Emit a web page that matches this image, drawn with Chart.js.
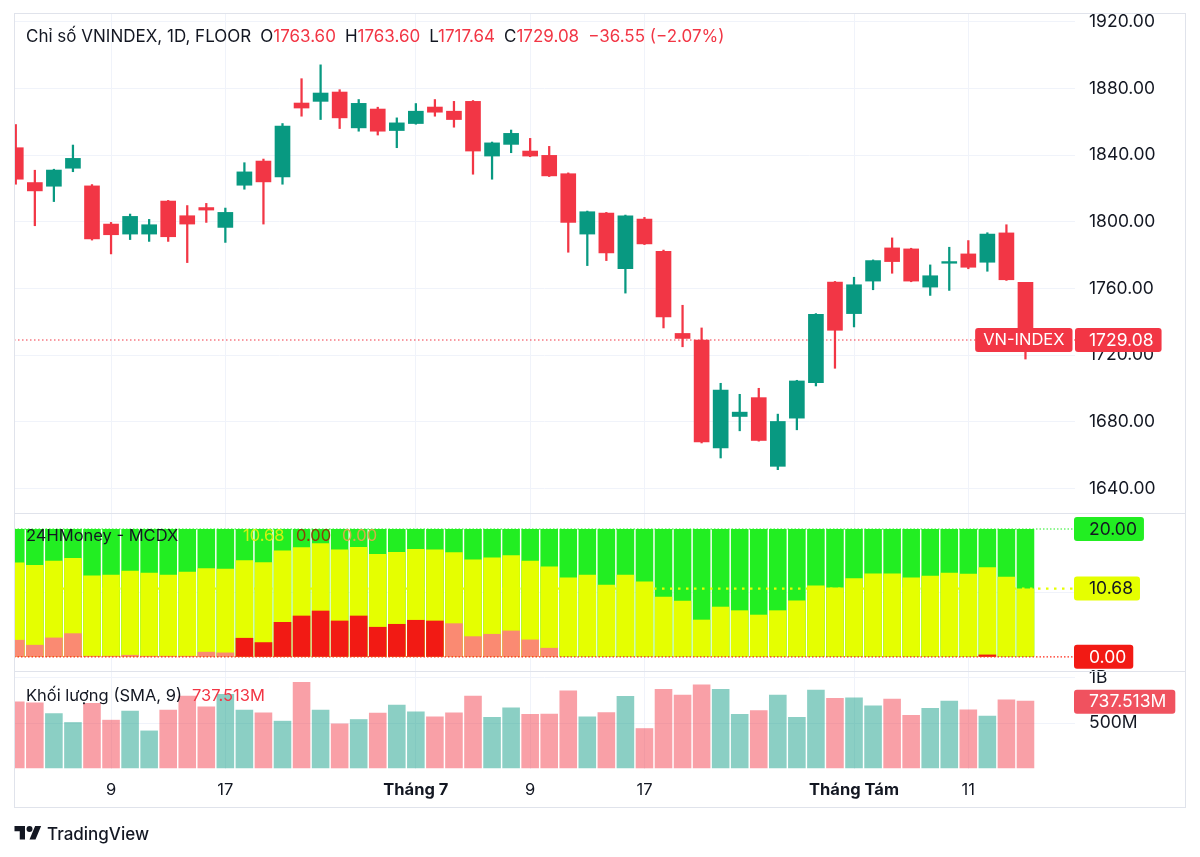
<!DOCTYPE html>
<html lang="vi">
<head>
<meta charset="utf-8">
<title>Chỉ số VNINDEX, 1D</title>
<script src="https://cdn.jsdelivr.net/npm/chart.js@4.4.1/dist/chart.umd.min.js"></script>
<style>
  html, body { margin: 0; padding: 0; background: #fff; }
  #wrap { position: relative; width: 1200px; height: 857px; overflow: hidden;
          font-family: Inter, "Noto Sans", sans-serif; color: #131722; }
  #chart { position: absolute; left: 0; top: 0; }
  .legend { position: absolute; font-size: 16.5px; line-height: 20px; white-space: nowrap; }
  .legend span { margin-left: 9px; }
  .red { color: #f23645; }
  #title { font-size: 17px; }
  #brand { position: absolute; left: 14px; top: 823px; display: flex; align-items: center; gap: 5px;
           font-size: 17px; font-weight: 500; }
</style>
</head>
<body>
<div id="wrap">
  <canvas id="chart" width="1200" height="857"></canvas>

  <div id="title" class="legend" style="left:26px; top:26px;">
    Chỉ số VNINDEX, 1D, FLOOR<span>O<b class="red" style="font-weight:400">1763.60</b></span><span>H<b class="red" style="font-weight:400">1763.60</b></span><span>L<b class="red" style="font-weight:400">1717.64</b></span><span>C<b class="red" style="font-weight:400">1729.08</b></span><span class="red">−36.55 (−2.07%)</span>
  </div>

  <div class="legend" style="left:26px; top:525px;">24HMoney - MCDX</div>
  <div class="legend" style="left:243px; top:525px; color:#d3f112;">10.68</div>
  <div class="legend" style="left:296px; top:525px; color:#8a3f08;">0.00</div>
  <div class="legend" style="left:342px; top:525px; color:#d3ad48;">0.00</div>

  <div class="legend" style="left:26px; top:685px;">Khối lượng (SMA, 9)<span class="red" style="margin-left:10px">737.513M</span></div>

  <div id="brand">
    <svg width="28" height="21" viewBox="0 0 36 28"><path fill="#131722" d="M14 22H7V11H0V4h14v18zM28 22h-8l7.5-18h8L28 22z"/><circle fill="#131722" cx="20" cy="8" r="4"/></svg>
    <span>TradingView</span>
  </div>
</div>

<script>
// trading days shown on the chart
const dates = [
  "2025-06-02", "2025-06-03", "2025-06-04", "2025-06-05", "2025-06-06",
  "2025-06-09", "2025-06-10", "2025-06-11", "2025-06-12", "2025-06-13",
  "2025-06-16", "2025-06-17", "2025-06-18", "2025-06-19", "2025-06-20",
  "2025-06-23", "2025-06-24", "2025-06-25", "2025-06-26", "2025-06-27",
  "2025-06-30", "2025-07-01", "2025-07-02", "2025-07-03", "2025-07-04",
  "2025-07-07", "2025-07-08", "2025-07-09", "2025-07-10", "2025-07-11",
  "2025-07-14", "2025-07-15", "2025-07-16", "2025-07-17", "2025-07-18",
  "2025-07-21", "2025-07-22", "2025-07-23", "2025-07-24", "2025-07-25",
  "2025-07-28", "2025-07-29", "2025-07-30", "2025-07-31", "2025-08-01",
  "2025-08-04", "2025-08-05", "2025-08-06", "2025-08-07", "2025-08-08",
  "2025-08-11", "2025-08-12", "2025-08-13", "2025-08-14",
];

const opens = [
  1844.4, 1823.5, 1821.3, 1832.1, 1821.5, 1798.6, 1792.6, 1792.6, 1812.4, 1803.6,
  1808.5, 1796.6, 1821.9, 1836.4, 1826.9, 1871.2, 1872.2, 1877.8, 1856.3, 1867.6,
  1854.7, 1858.9, 1868.8, 1866.3, 1872.2, 1839.4, 1846.4, 1842.4, 1839.8, 1828.8,
  1792.6, 1805.2, 1771.8, 1801.6, 1782.3, 1733.0, 1729.0, 1664.3, 1683.2, 1694.5,
  1653.3, 1682.2, 1703.5, 1763.8, 1744.9, 1764.4, 1784.3, 1783.7, 1760.8, 1775.1,
  1780.7, 1775.7, 1793.3, 1763.60,
];
const highs = [
  1858.3, 1830.9, 1831.5, 1846.0, 1822.3, 1799.6, 1804.6, 1801.4, 1812.8, 1809.7,
  1811.0, 1808.2, 1835.4, 1837.6, 1858.9, 1885.8, 1894.1, 1879.2, 1873.3, 1868.7,
  1862.3, 1870.9, 1873.3, 1872.2, 1872.7, 1847.8, 1855.0, 1850.0, 1845.2, 1829.3,
  1806.4, 1805.6, 1804.0, 1802.6, 1783.0, 1749.9, 1736.3, 1703.1, 1696.5, 1700.1,
  1684.6, 1704.9, 1744.9, 1764.2, 1766.7, 1777.1, 1790.3, 1784.1, 1774.1, 1784.7,
  1788.7, 1793.4, 1798.2, 1763.60,
];
const lows = [
  1822.5, 1797.6, 1812.1, 1830.0, 1789.0, 1780.7, 1789.3, 1788.2, 1788.2, 1775.5,
  1799.6, 1787.6, 1819.5, 1798.6, 1822.5, 1863.3, 1861.3, 1855.9, 1854.3, 1852.0,
  1844.4, 1858.5, 1863.3, 1856.7, 1828.5, 1825.5, 1841.4, 1839.0, 1827.1, 1781.7,
  1773.7, 1776.7, 1757.2, 1786.3, 1736.3, 1725.0, 1667.3, 1658.3, 1674.6, 1668.4,
  1651.3, 1675.2, 1701.5, 1712.1, 1736.9, 1759.2, 1769.1, 1764.0, 1755.8, 1758.8,
  1771.8, 1770.3, 1764.8, 1717.64,
];
const closes = [
  1825.5, 1818.5, 1831.0, 1838.0, 1789.7, 1792.2, 1803.2, 1798.2, 1791.0, 1798.6,
  1807.0, 1805.6, 1829.9, 1823.9, 1857.3, 1868.2, 1877.2, 1862.3, 1871.0, 1854.3,
  1859.3, 1866.3, 1865.7, 1861.3, 1842.4, 1847.3, 1853.0, 1839.4, 1827.5, 1799.6,
  1806.0, 1781.3, 1803.6, 1786.7, 1742.9, 1730.0, 1667.9, 1699.1, 1685.8, 1668.8,
  1680.2, 1704.5, 1744.5, 1734.9, 1762.2, 1776.7, 1776.1, 1764.4, 1767.6, 1776.1,
  1772.7, 1792.6, 1765.2, 1729.08,
];

// volume, in millions
const volumes = [
  740, 729, 611, 511, 722, 537, 637, 418, 648, 803,
  684, 822, 648, 618, 526, 956, 648, 496, 544, 614,
  703, 629, 573, 618, 803, 567, 673, 600, 603, 862,
  573, 622, 800, 444, 878, 814, 929, 878, 600, 644,
  814, 567, 870, 778, 784, 696, 770, 589, 667, 748,
  651, 581, 762, 748,
];
const volumeSma = 737.513;

// MCDX columns (0..20)
const mcdxRetail = [
  20, 20, 20, 20, 20, 20, 20, 20, 20, 20,
  20, 20, 20, 20, 20, 20, 20, 20, 20, 20,
  20, 20, 20, 20, 20, 20, 20, 20, 20, 20,
  20, 20, 20, 20, 20, 20, 20, 20, 20, 20,
  20, 20, 20, 20, 20, 20, 20, 20, 20, 20,
  20, 20, 20, 20,
];
const mcdxHotMoney = [
  14.75, 14.38, 15.01, 15.47, 12.72, 12.83, 13.45, 13.14, 12.83, 13.29,
  13.87, 13.76, 15.12, 14.80, 16.62, 17.14, 17.76, 16.77, 17.19, 16.10,
  16.41, 16.88, 16.77, 16.36, 15.21, 15.52, 15.89, 15.01, 14.12, 12.41,
  12.83, 11.27, 12.83, 11.79, 9.40, 8.77, 5.81, 7.84, 7.27, 6.59,
  7.27, 8.82, 11.16, 10.85, 12.31, 13.03, 13.03, 12.41, 12.67, 13.14,
  12.98, 14.03, 12.51, 10.68,
];
const mcdxBankerStrong = [
  0, 0, 0, 0, 0, 0, 0, 0, 0, 0,
  0, 0, 2.96, 2.28, 5.45, 6.44, 7.22, 5.66, 6.44, 4.68,
  5.14, 5.77, 5.66, 0, 0, 0, 0, 0, 0, 0,
  0, 0, 0, 0, 0, 0, 0, 0, 0, 0,
  0, 0, 0, 0, 0, 0, 0, 0, 0, 0,
  0, 0.35, 0, 0,
];
const mcdxBankerWeak = [
  2.65, 1.87, 3.01, 3.68, 0.15, 0.15, 0.3, 0.15, 0.15, 0.15,
  0.78, 0.67, 0, 0, 0, 0, 0, 0, 0, 0,
  0, 0, 0, 5.24, 3.21, 3.58, 4.10, 2.70, 1.40, 0,
  0, 0, 0, 0, 0, 0, 0, 0, 0, 0,
  0, 0, 0, 0, 0, 0, 0, 0, 0, 0,
  0, 0, 0, 0,
];

// axis ticks
const priceTicks = [1640, 1680, 1720, 1760, 1800, 1840, 1880, 1920];
const volumeTicks = [500, 1000];
const volumeTickLabels = ["500M", "1B"];
const xTickDates = ["2025-06-09", "2025-06-17", "2025-07-01", "2025-07-09", "2025-07-17", "2025-08-01", "2025-08-11"];
const xTickLabels = ["9", "17", "Tháng 7", "9", "17", "Tháng Tám", "11"];

const UP = "#089981";
const DOWN = "#f23645";
const GRID = "#f0f3fa";
const FONT = "Inter, 'Noto Sans', sans-serif";
const TAG_FONT = "17.5px " + FONT;
const NAME_FONT = "16.5px " + FONT;

const xTickIndex = xTickDates.map((d) => dates.indexOf(d));
const isUp = closes.map((c, i) => c >= opens[i]);
const candleColors = isUp.map((u) => (u ? UP : DOWN));
const volumeColors = isUp.map((u) => (u ? "rgba(8,153,129,0.47)" : "rgba(242,54,69,0.47)"));
const lastClose = closes[closes.length - 1];
const lastHot = mcdxHotMoney[mcdxHotMoney.length - 1];

const series = (arr) => arr.map((v, i) => ({ x: i, y: v }));

// dotted horizontal line
const dottedLine = (ctx, x1, x2, y, color, width, dash) => {
  ctx.save();
  ctx.strokeStyle = color;
  ctx.lineWidth = width;
  ctx.setLineDash(dash);
  ctx.beginPath();
  ctx.moveTo(x1, y);
  ctx.lineTo(x2, y);
  ctx.stroke();
  ctx.restore();
};

// value tag box on the price scale
const tag = (ctx, text, x, y, bg, fg, padL, padR, alignRight, font) => {
  ctx.save();
  ctx.font = font || TAG_FONT;
  const w = ctx.measureText(text).width + padL + padR;
  const left = alignRight ? x - w : x;
  ctx.fillStyle = bg;
  ctx.beginPath();
  ctx.roundRect(left, y - 12, w, 24, 3);
  ctx.fill();
  ctx.fillStyle = fg;
  ctx.textBaseline = "middle";
  ctx.fillText(text, left + padL, y + 0.5);
  ctx.restore();
};

const paneDecor = {
  id: "paneDecor",
  beforeDatasetsDraw(chart) {
    const { ctx, chartArea: a, scales: s } = chart;
    dottedLine(ctx, a.left, a.right, s.yPrice.getPixelForValue(lastClose), DOWN, 1.2, [1.5, 2.5]);
  },
  afterDatasetsDraw(chart) {
    const { ctx, chartArea: a, scales: s } = chart;
    dottedLine(ctx, a.left, a.right, s.yMcdx.getPixelForValue(20), "#22ee22", 1.2, [1.5, 2]);
    dottedLine(ctx, a.left, a.right, s.yMcdx.getPixelForValue(lastHot), "#e5ff00", 2.2, [2.5, 5.5]);
    dottedLine(ctx, a.left, a.right, s.yMcdx.getPixelForValue(0), "#ff2a1a", 1.2, [1.5, 2]);
  },
  afterDraw(chart) {
    const { ctx, chartArea: a, scales: s } = chart;
    const right = s.yPrice.right;

    // frame and pane separators
    ctx.save();
    ctx.strokeStyle = "#e0e3eb";
    ctx.lineWidth = 1;
    ctx.strokeRect(a.left + 0.5, a.top + 0.5, right - a.left - 1, s.x.bottom - a.top - 1);
    [s.yPrice.bottom, s.yMcdx.bottom].forEach((y) => {
      ctx.beginPath();
      ctx.moveTo(a.left, Math.round(y) + 0.5);
      ctx.lineTo(right, Math.round(y) + 0.5);
      ctx.stroke();
    });
    ctx.restore();

    // tags
    const yc = s.yPrice.getPixelForValue(lastClose);
    tag(ctx, "VN-INDEX", a.right - 2.5, yc, DOWN, "#fff", 8, 8, true, NAME_FONT);
    tag(ctx, lastClose.toFixed(2), a.right, yc, DOWN, "#fff", 14, 8, false);
    tag(ctx, "20.00", a.right - 1, s.yMcdx.getPixelForValue(20), "#22ee22", "#131722", 15, 7, false);
    tag(ctx, lastHot.toFixed(2), a.right - 1, s.yMcdx.getPixelForValue(lastHot), "#e5ff00", "#131722", 15, 7, false);
    tag(ctx, "0.00", a.right - 1, s.yMcdx.getPixelForValue(0), "#f21a14", "#fff", 15, 7, false);
    tag(ctx, volumeSma.toFixed(3) + "M", a.right - 1, s.yVol.getPixelForValue(volumeSma), "#f0525f", "#fff", 15, 9, false);
  },
};

const yAxisBase = (weight, min, max) => ({
  type: "linear",
  position: "right",
  stack: "panes",
  stackWeight: weight,
  min: min,
  max: max,
  bounds: "data",
  afterFit: (scale) => {
    scale.width = 111;
    scale.paddingTop = 0;
    scale.paddingBottom = 0;
  },
  grid: { color: GRID, drawTicks: false },
  border: { display: false },
});

const yTicks = { padding: 14, color: "#131722", font: { size: 17.5 } };

Chart.defaults.font.family = FONT;

new Chart(document.getElementById("chart"), {
  type: "bar",
  data: {
    datasets: [
      // candles
      { label: "body", data: series(opens.map((o, i) => [o, closes[i]])), yAxisID: "yPrice",
        backgroundColor: candleColors, barThickness: 15, grouped: false, order: 1, minBarLength: 1.5 },
      { label: "wick", data: series(lows.map((l, i) => [l, highs[i]])), yAxisID: "yPrice",
        backgroundColor: candleColors, barThickness: 1.6, grouped: false, order: 2 },
      // MCDX
      { label: "banker strong", data: series(mcdxBankerStrong), yAxisID: "yMcdx",
        backgroundColor: "#f21a14", barThickness: 17.6, grouped: false, order: 3, inflateAmount: 0 },
      { label: "banker", data: series(mcdxBankerWeak), yAxisID: "yMcdx",
        backgroundColor: "#fa8a72", barThickness: 17.6, grouped: false, order: 4, inflateAmount: 0 },
      { label: "hot money", data: series(mcdxHotMoney), yAxisID: "yMcdx",
        backgroundColor: "#e5ff00", barThickness: 17.6, grouped: false, order: 5, inflateAmount: 0 },
      { label: "retail", data: series(mcdxRetail), yAxisID: "yMcdx",
        backgroundColor: "#22ee22", barThickness: 17.6, grouped: false, order: 6, inflateAmount: 0 },
      // volume
      { label: "volume", data: series(volumes), yAxisID: "yVol",
        backgroundColor: volumeColors, barThickness: 17.6, grouped: false, order: 7, inflateAmount: 0 },
    ],
  },
  options: {
    responsive: false,
    animation: false,
    layout: { padding: { left: 14, right: 14, top: 13, bottom: 49 } },
    plugins: { legend: { display: false }, tooltip: { enabled: false } },
    scales: {
      x: {
        type: "linear",
        position: "bottom",
        offset: false,
        min: -0.094,
        max: 55.6,
        bounds: "data",
        afterBuildTicks: (scale) => { scale.ticks = xTickIndex.map((v) => ({ value: v })); },
        afterFit: (scale) => {
          scale.height = 39;
          scale.paddingLeft = 0;
          scale.paddingRight = 0;
        },
        grid: { color: GRID, drawTicks: false, offset: false },
        border: { display: false },
        ticks: {
          padding: 11,
          autoSkip: false,
          maxRotation: 0,
          color: "#131722",
          font: (c) => ({ size: 16.5, weight: /Tháng/.test(xTickLabels[c.index] || "") ? "bold" : "normal" }),
          callback: (value, index) => xTickLabels[index],
        },
      },
      yPrice: Object.assign(yAxisBase(500, 1625.3, 1925.2), {
        afterBuildTicks: (scale) => { scale.ticks = priceTicks.map((v) => ({ value: v })); },
        ticks: Object.assign({}, yTicks, { callback: (v) => v.toFixed(2) }),
      }),
      yMcdx: Object.assign(yAxisBase(158, -2.22, 22.5), {
        afterBuildTicks: (scale) => { scale.ticks = [{ value: 10 }]; },
        ticks: { display: false },
      }),
      yVol: Object.assign(yAxisBase(98, -7.75, 1077.5), {
        afterBuildTicks: (scale) => { scale.ticks = volumeTicks.map((v) => ({ value: v })); },
        ticks: Object.assign({}, yTicks, { callback: (v, i) => volumeTickLabels[i] }),
      }),
    },
  },
  plugins: [paneDecor],
});
</script>
</body>
</html>
